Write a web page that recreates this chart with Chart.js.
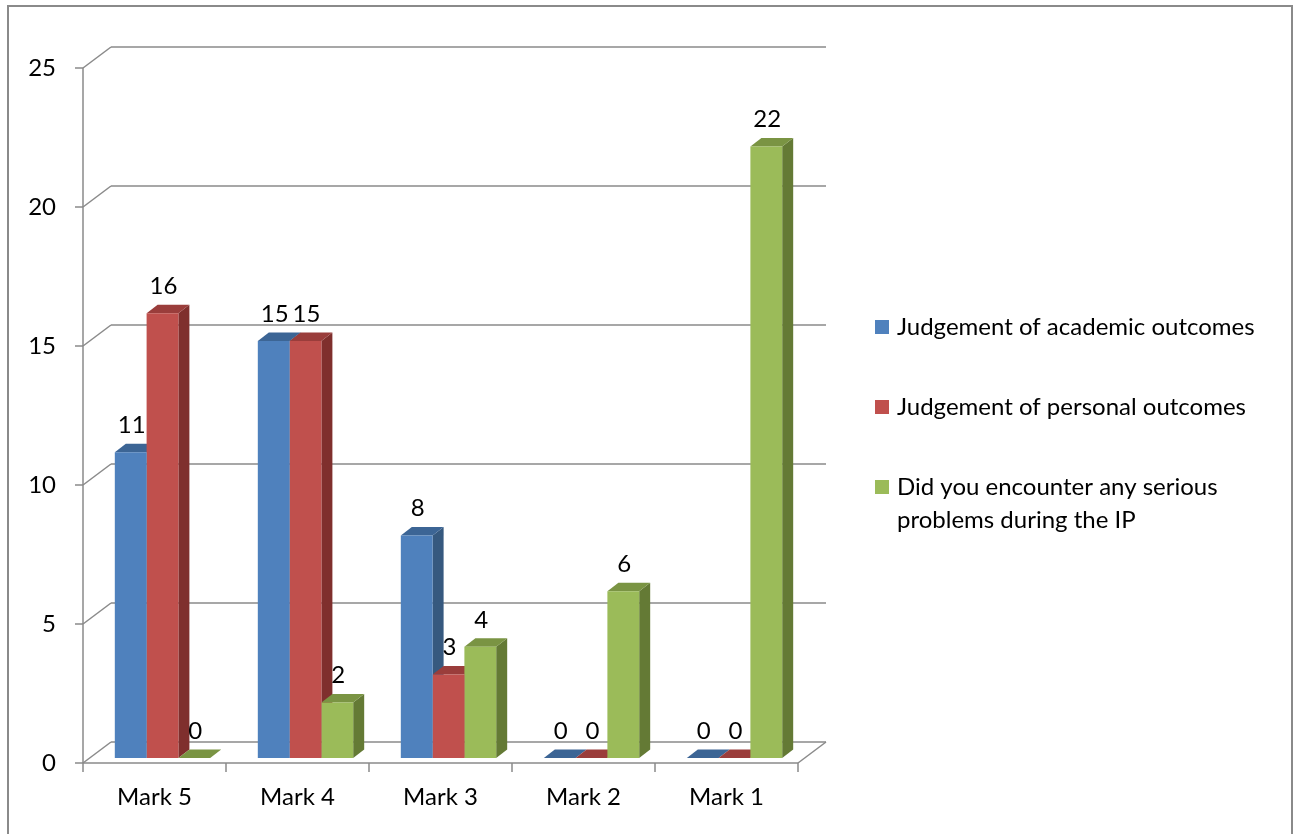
<!DOCTYPE html>
<html lang="en">
<head>
    <meta charset="UTF-8">
    <title>Marks chart</title>
    <script src="https://cdn.jsdelivr.net/npm/chart.js"></script>
    <style>
        html, body { margin: 0; padding: 0; background: #ffffff; }
        #wrap { width: 1299px; height: 834px; position: relative; }
    </style>
</head>
<body>
<div id="wrap"><canvas id="marksChart" width="1299" height="834"></canvas></div>

<script>
    // chart data
    const categories = ['Mark 5', 'Mark 4', 'Mark 3', 'Mark 2', 'Mark 1'];
    const academic = [11, 15, 8, 0, 0];
    const personal = [16, 15, 3, 0, 0];
    const problems = [0, 2, 4, 6, 22];
    const seriesNames = [
        'Judgement of academic outcomes',
        'Judgement of personal outcomes',
        ['Did you encounter any serious', 'problems during the IP']
    ];
    const yTicks = [0, 5, 10, 15, 20, 25];

    const FONT = '24px Lato, "Open Sans", sans-serif';
    const GRID = '#8a8a8a';

    // colours: front, top, side
    const shades = [
        ['#4F81BD', '#3C6595', '#36597F'],
        ['#C0504D', '#9A3D3B', '#7F2F2D'],
        ['#9BBB59', '#7A9443', '#647A35']
    ];

    // depth vectors relative to the bar front plane
    const FRONT = { dx: -8, dy: 5 };    // front edge of the floor / walls
    const BACK = { dx: 20, dy: -16 };   // back wall
    const BAR = { dx: 11, dy: -8.5 };   // depth of each bar

    function line(ctx, x1, y1, x2, y2) {
        ctx.beginPath();
        ctx.moveTo(x1, y1);
        ctx.lineTo(x2, y2);
        ctx.stroke();
    }

    function poly(ctx, pts, color) {
        ctx.beginPath();
        ctx.moveTo(pts[0][0], pts[0][1]);
        for (let i = 1; i < pts.length; i++) ctx.lineTo(pts[i][0], pts[i][1]);
        ctx.closePath();
        ctx.fillStyle = color;
        ctx.fill();
    }

    const frame3d = {
        id: 'frame3d',
        beforeDatasetsDraw(chart) {
            const ctx = chart.ctx;
            const xs = chart.scales.x;
            const ys = chart.scales.y;
            const left = chart.chartArea.left, right = chart.chartArea.right;
            ctx.save();

            // outer border
            ctx.strokeStyle = GRID;
            ctx.lineWidth = 2;
            ctx.strokeRect(8, 6, 1284, 840);

            ctx.lineWidth = 1.5;
            ctx.strokeStyle = GRID;
            // back wall grid + left wall diagonals
            yTicks.forEach(v => {
                const y = ys.getPixelForValue(v);
                line(ctx, left + BACK.dx, y + BACK.dy, right + BACK.dx, y + BACK.dy);
                line(ctx, left + FRONT.dx, y + FRONT.dy, left + BACK.dx, y + BACK.dy);
                line(ctx, left + FRONT.dx - 8, y + FRONT.dy, left + FRONT.dx, y + FRONT.dy);
            });
            // front left axis
            const yTop = ys.getPixelForValue(yTicks[yTicks.length - 1]);
            const y0 = ys.getPixelForValue(0);
            line(ctx, left + FRONT.dx, yTop + FRONT.dy, left + FRONT.dx, y0 + FRONT.dy);
            // floor
            line(ctx, left + FRONT.dx, y0 + FRONT.dy, right + FRONT.dx, y0 + FRONT.dy);
            line(ctx, right + FRONT.dx, y0 + FRONT.dy, right + BACK.dx, y0 + BACK.dy);
            // category ticks on the front edge
            const n = categories.length;
            const step = (right - left) / n;
            for (let i = 0; i <= n; i++) {
                const x = left + FRONT.dx + i * step;
                line(ctx, x, y0 + FRONT.dy, x, y0 + FRONT.dy + 9);
            }

            // tick labels
            ctx.fillStyle = '#000';
            ctx.font = FONT;
            ctx.textAlign = 'right';
            ctx.textBaseline = 'middle';
            yTicks.forEach(v => {
                ctx.fillText(String(v), left + FRONT.dx - 27, ys.getPixelForValue(v) + FRONT.dy);
            });
            ctx.textAlign = 'center';
            categories.forEach((c, i) => {
                ctx.fillText(c, xs.getPixelForValue(i) + FRONT.dx, y0 + 39);
            });

            // bar sides, then tops (fronts are drawn by Chart.js)
            const metas = chart.data.datasets.map((d, i) => chart.getDatasetMeta(i));
            metas.forEach((meta, di) => {
                meta.data.forEach(bar => {
                    const r = bar.x + bar.width / 2;
                    poly(ctx, [[r, bar.y], [r + BAR.dx, bar.y + BAR.dy],
                        [r + BAR.dx, bar.base + BAR.dy], [r, bar.base]], shades[di][2]);
                });
            });
            metas.forEach((meta, di) => {
                meta.data.forEach(bar => {
                    const l = bar.x - bar.width / 2, r = bar.x + bar.width / 2;
                    poly(ctx, [[l, bar.y], [l + BAR.dx, bar.y + BAR.dy],
                        [r + BAR.dx, bar.y + BAR.dy], [r, bar.y]], shades[di][1]);
                });
            });
            ctx.restore();
        },
        afterDatasetsDraw(chart) {
            const ctx = chart.ctx;
            ctx.save();
            ctx.fillStyle = '#000';
            ctx.font = FONT;
            ctx.textAlign = 'center';
            ctx.textBaseline = 'middle';
            chart.data.datasets.forEach((ds, di) => {
                chart.getDatasetMeta(di).data.forEach((bar, i) => {
                    ctx.fillText(String(ds.data[i]), bar.x + 1, bar.y - 27);
                });
            });

            // legend
            let ly = 327;
            ctx.textAlign = 'left';
            seriesNames.forEach((name, di) => {
                ctx.fillStyle = shades[di][0];
                ctx.fillRect(875, ly - 7, 14, 14);
                ctx.fillStyle = '#000';
                const lines = Array.isArray(name) ? name : [name];
                lines.forEach((t, k) => ctx.fillText(t, 897, ly + k * 33));
                ly += 80;
            });
            ctx.restore();
        }
    };

    new Chart(document.getElementById('marksChart'), {
        type: 'bar',
        data: {
            labels: categories,
            datasets: [
                { label: 'Judgement of academic outcomes', data: academic, backgroundColor: shades[0][0] },
                { label: 'Judgement of personal outcomes', data: personal, backgroundColor: shades[1][0] },
                { label: 'Did you encounter any serious problems during the IP', data: problems, backgroundColor: shades[2][0] }
            ]
        },
        options: {
            responsive: false,
            animation: false,
            layout: { padding: { left: 91, right: 493, top: 63, bottom: 76 } },
            datasets: { bar: { barPercentage: 1, categoryPercentage: 0.667, borderWidth: 0 } },
            scales: {
                x: { display: false },
                y: { display: false, min: 0, max: 25 }
            },
            plugins: {
                legend: { display: false },
                tooltip: { enabled: false }
            }
        },
        plugins: [frame3d]
    });
</script>
</body>
</html>
